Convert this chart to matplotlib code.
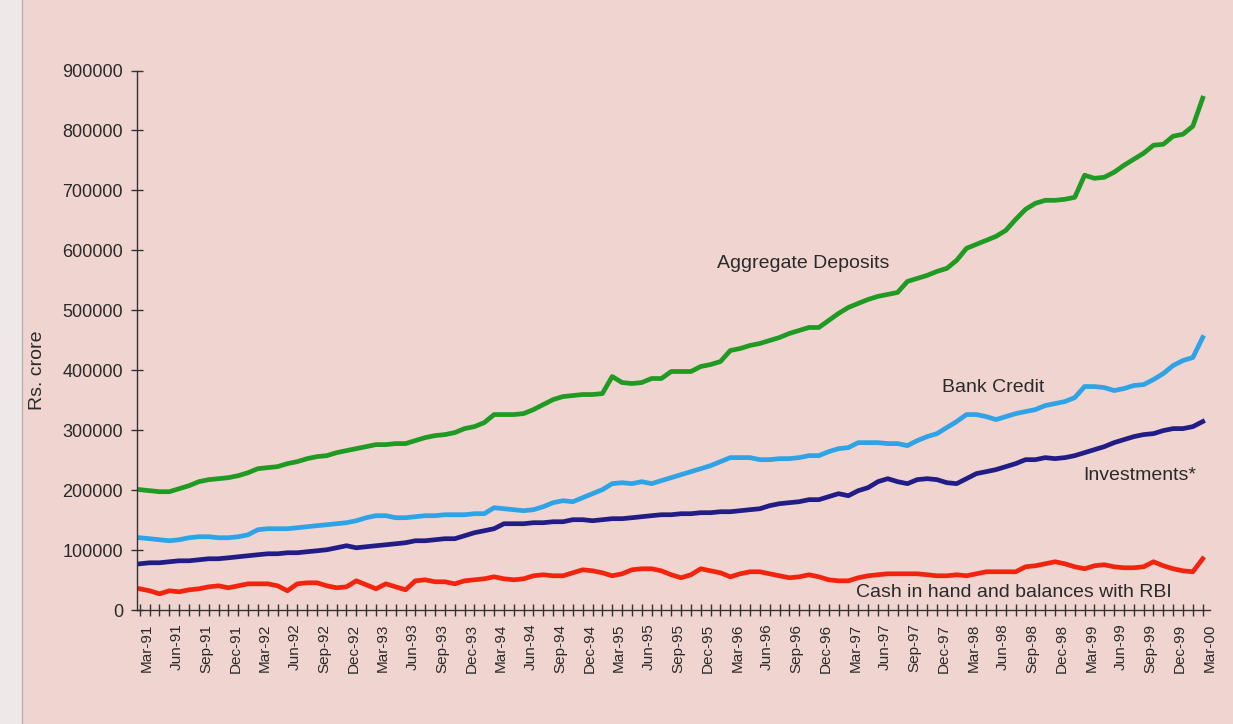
import matplotlib
matplotlib.use("Agg")
import matplotlib.pyplot as plt
import numpy as np
from matplotlib.patches import Rectangle
from matplotlib.lines import Line2D

# Monthly observations, Mar-91 .. Mar-00 (Rs. crore)
months_count = 109

aggregate_deposits = [
    201200, 199500, 197800, 197800, 202800, 207800, 214500, 217900, 219500, 221200,
    224500, 229500, 236200, 237900, 239600, 244600, 247900, 252900, 256300, 257900,
    262900, 266300, 269600, 272900, 276300, 276300, 278000, 278000, 283000, 288000,
    291300, 293000, 296300, 303000, 306300, 313000, 326400, 326400, 326400, 328000,
    334700, 343100, 351400, 356400, 358100, 359800, 359800, 361400, 389800, 379800,
    378100, 379800, 386500, 386500, 398200, 398200, 398200, 406500, 409800, 414800,
    433200, 436500, 441600, 444900, 449900, 454900, 461600, 466600, 471600, 471600,
    483300, 495000, 505000, 511700, 518300, 523400, 526700, 530000, 548400, 553400,
    558400, 565100, 570100, 583500, 603500, 610200, 616800, 623500, 633500, 651900,
    668600, 678600, 683600, 683600, 685300, 688600, 725400, 720300, 722000, 730400,
    742000, 752100, 762100, 775400, 777100, 790500, 793800, 807200, 853900,
]

bank_credit = [
    121000, 119400, 117700, 116000, 117700, 121000, 122700, 122700, 121000, 121000,
    122700, 126000, 134400, 136100, 136100, 136100, 137700, 139400, 141100, 142700,
    144400, 146100, 149400, 154400, 157800, 157800, 154400, 154400, 156100, 157800,
    157800, 159400, 159400, 159400, 161100, 161100, 171100, 169400, 167800, 166100,
    167800, 172800, 179500, 182800, 181100, 187800, 194500, 201200, 211200, 212800,
    211200, 214500, 211200, 216200, 221200, 226200, 231200, 236200, 241200, 247900,
    254600, 254600, 254600, 251200, 251200, 252900, 252900, 254600, 257900, 257900,
    264600, 269600, 271300, 279600, 279600, 279600, 278000, 278000, 274600, 283000,
    289600, 294600, 304700, 314700, 326400, 326400, 323000, 318000, 323000, 328000,
    331400, 334700, 341400, 344700, 348100, 354700, 373100, 373100, 371400, 366400,
    369800, 374800, 376400, 384800, 394800, 408200, 416500, 421500, 454900,
]

investments = [
    77600, 79300, 79300, 81000, 82600, 82600, 84300, 86000, 86000, 87600,
    89300, 91000, 92700, 94300, 94300, 96000, 96000, 97700, 99300, 101000,
    104300, 107700, 104300, 106000, 107700, 109300, 111000, 112700, 116000, 116000,
    117700, 119400, 119400, 124400, 129400, 132700, 136100, 144400, 144400, 144400,
    146100, 146100, 147700, 147700, 151100, 151100, 149400, 151100, 152800, 152800,
    154400, 156100, 157800, 159400, 159400, 161100, 161100, 162800, 162800, 164400,
    164400, 166100, 167800, 169400, 174500, 177800, 179500, 181100, 184500, 184500,
    189500, 194500, 191100, 199500, 204500, 214500, 219500, 214500, 211200, 217900,
    219500, 217900, 212800, 211200, 219500, 227900, 231200, 234600, 239600, 244600,
    251200, 251200, 254600, 252900, 254600, 257900, 262900, 267900, 272900, 279600,
    284600, 289600, 293000, 294600, 299700, 303000, 303000, 306300, 314700,
]

cash_rbi = [
    35900, 32600, 27500, 32600, 30900, 34200, 35900, 39200, 40900, 37600,
    40900, 44200, 44200, 44200, 40900, 32600, 44200, 45900, 45900, 40900,
    37600, 39200, 49200, 42600, 35900, 44200, 39200, 34200, 49200, 50900,
    47600, 47600, 44200, 49200, 50900, 52600, 55900, 52600, 50900, 52600,
    57600, 59300, 57600, 57600, 62600, 67600, 65900, 62600, 57600, 60900,
    67600, 69300, 69300, 65900, 59300, 54300, 59300, 69300, 65900, 62600,
    55900, 60900, 64300, 64300, 60900, 57600, 54300, 55900, 59300, 55900,
    50900, 49200, 49200, 54300, 57600, 59300, 60900, 60900, 60900, 60900,
    59300, 57600, 57600, 59300, 57600, 60900, 64300, 64300, 64300, 64300,
    72600, 74300, 77600, 81000, 77600, 72600, 69300, 74300, 76000, 72600,
    71000, 71000, 72600, 81000, 74300, 69300, 65900, 64300, 86000,
]

tick_labels = [
    "Mar-91", "Jun-91", "Sep-91", "Dec-91", "Mar-92", "Jun-92", "Sep-92", "Dec-92",
    "Mar-93", "Jun-93", "Sep-93", "Dec-93", "Mar-94", "Jun-94", "Sep-94", "Dec-94",
    "Mar-95", "Jun-95", "Sep-95", "Dec-95", "Mar-96", "Jun-96", "Sep-96", "Dec-96",
    "Mar-97", "Jun-97", "Sep-97", "Dec-97", "Mar-98", "Jun-98", "Sep-98", "Dec-98",
    "Mar-99", "Jun-99", "Sep-99", "Dec-99", "Mar-00",
]

series_names = ["Aggregate Deposits", "Bank Credit", "Investments*",
                "Cash in hand and balances with RBI"]

paper = "#f0d4d0"
fig = plt.figure(figsize=(12.33, 7.24), dpi=100, facecolor=paper)
# light scanned margin on the left
fig.patches.append(Rectangle((0, 0), 0.018, 1, transform=fig.transFigure,
                             facecolor="#eee8e8", edgecolor="none", zorder=0))
fig.lines.append(Line2D([0.018, 0.018], [0, 1], transform=fig.transFigure,
                        color="#b9b0b0", lw=1.0))

ax = fig.add_axes([0.111, 0.157, 0.870, 0.7456])
ax.set_facecolor(paper)

x = np.arange(months_count)
lw = 3.4
ax.plot(x, aggregate_deposits, color="#1f9a22", lw=lw, solid_joinstyle="round")
ax.plot(x, bank_credit, color="#2ea3e6", lw=lw, solid_joinstyle="round")
ax.plot(x, investments, color="#221c86", lw=lw, solid_joinstyle="round")
ax.plot(x, cash_rbi, color="#f2240e", lw=lw, solid_joinstyle="round")

ax.set_xlim(-0.3, 108.7)
ax.set_ylim(0, 900000)

font = "Liberation Sans"
ax.set_yticks(np.arange(0, 900001, 100000))
ax.set_yticklabels([str(v) for v in range(0, 900001, 100000)],
                   fontsize=13, family=font, color="#2a2a2a")
ax.set_xticks(np.arange(0, months_count, 3))
ax.set_xticklabels(tick_labels, rotation=90, fontsize=11, family=font,
                   color="#2a2a2a", ha="left")
ax.set_xticks(np.arange(0, months_count), minor=True)

ax.tick_params(axis="y", direction="inout", length=8, width=1, color="#333333", pad=6)
ax.tick_params(axis="x", which="both", direction="inout", length=9, width=1,
               color="#333333", pad=5)

for s in ["top", "right"]:
    ax.spines[s].set_visible(False)
for s in ["left", "bottom"]:
    ax.spines[s].set_color("#333333")
    ax.spines[s].set_linewidth(1.0)

tc = "#2a2a2a"
ax.text(58.6, 578400, series_names[0], fontsize=14, family=font, color=tc,
        ha="left", va="center")
ax.text(81.5, 372000, series_names[1], fontsize=14, family=font, color=tc,
        ha="left", va="center")
ax.text(95.9, 224500, series_names[2], fontsize=14, family=font, color=tc,
        ha="left", va="center")
ax.text(72.8, 29000, series_names[3], fontsize=14, family=font, color=tc,
        ha="left", va="center")

fig.text(38 / 1233, 1 - 370 / 724, "Rs. crore", rotation=90, fontsize=14,
         family=font, color=tc, ha="center", va="center")

fig.savefig("out.png", dpi=100, facecolor=paper)
